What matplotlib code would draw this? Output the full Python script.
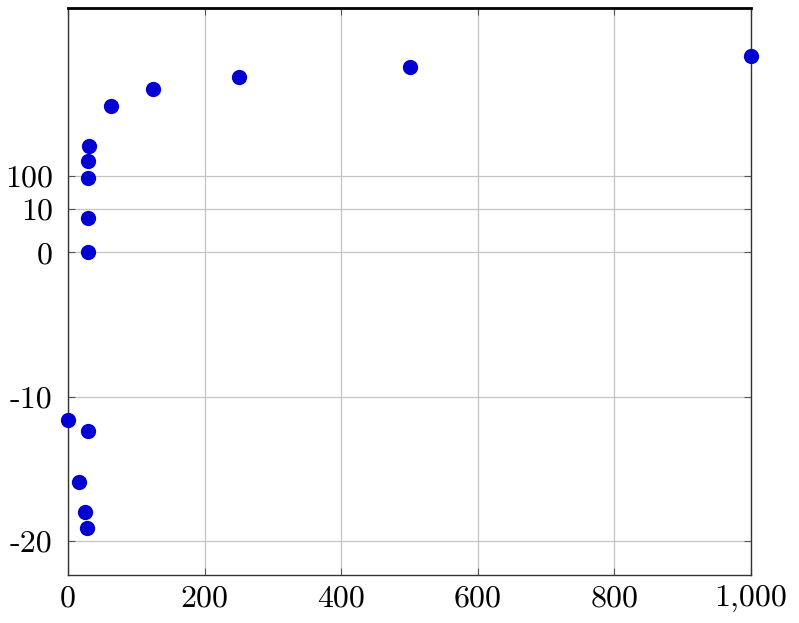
import numpy as np
import matplotlib
matplotlib.use("Agg")
import matplotlib.pyplot as plt

# data
x_vals = [0, 28.8, 16.5, 24.9, 28.2, 28.8, 28.8, 28.8, 29.7, 31.2, 63, 125, 250, 500, 1000]
y_vals = [-11.6, -12.4, -15.9, -18.0, -19.1, 0, 5.2, 88, 286, 794, 12600, 40000, 92000, 193000, 403000]
y_ticks = [-20, -10, 0, 10, 100]
y_tick_labels = ["-20", "-10", "0", "10", "100"]
x_ticks = [0, 200, 400, 600, 800, 1000]
x_tick_labels = ["0", "200", "400", "600", "800", "1,000"]

def fwd(y):
    y = np.asarray(y, dtype=float)
    return np.where(y < 0, y, np.arcsinh(np.clip(y, 0, None)))

def inv(t):
    t = np.asarray(t, dtype=float)
    return np.where(t < 0, t, np.sinh(np.clip(t, 0, 50)))

fig = plt.figure(figsize=(7.99, 6.23), dpi=100)
ax = fig.add_axes([68/799, 1-575/623, (751-68)/799, (575-8)/623])
ax.set_yscale('function', functions=(fwd, inv))
ax.set_xlim(0, 1000)
ax.set_ylim(-22.36, float(np.sinh(16.93)))

ax.scatter(x_vals, y_vals, s=11**2, color='#0000D4', zorder=3, clip_on=False, linewidths=0)

ax.set_xticks(x_ticks)
ax.set_xticklabels(x_tick_labels)
ax.set_yticks(y_ticks)
ax.set_yticklabels(y_tick_labels)
ax.minorticks_off()
ax.grid(True, color='#c4c4c4', linewidth=0.9)
ax.set_axisbelow(True)
ax.tick_params(direction='in', length=5, width=0.8, color='#555555',
               top=True, right=True, labelsize=23)
ax.tick_params(axis='y', pad=11)
ax.tick_params(axis='x', pad=7)
for lab in ax.get_xticklabels() + ax.get_yticklabels():
    lab.set_family('cmr10')
for s in ax.spines.values():
    s.set_linewidth(1.0)
    s.set_color('#333333')
ax.spines['top'].set_linewidth(2.0)
ax.spines['top'].set_color('black')

fig.savefig("out.png", dpi=100)
